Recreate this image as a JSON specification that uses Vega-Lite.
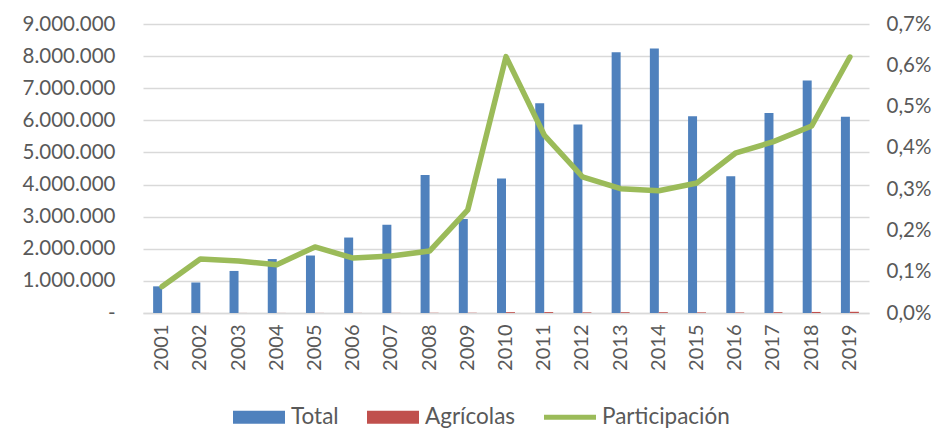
{
  "$schema": "https://vega.github.io/schema/vega-lite/v6.json",
  "width": 726,
  "height": 289,
  "autosize": "none",
  "padding": {"left": 143, "top": 24, "right": 71, "bottom": 115},
  "background": "white",
  "config": {
    "locale": {"number": {"decimal": ",", "thousands": ".", "grouping": [3], "currency": ["", " €"]}},
    "view": {"stroke": null},
    "font": "Lato"
  },
  "data": {"values": [
    {"Año": "2001", "Total": 830000, "Agrícolas": 530, "Participación": 0.00064},
    {"Año": "2002", "Total": 950000, "Agrícolas": 1245, "Participación": 0.00131},
    {"Año": "2003", "Total": 1310000, "Agrícolas": 1650, "Participación": 0.00126},
    {"Año": "2004", "Total": 1680000, "Agrícolas": 1966, "Participación": 0.00117},
    {"Año": "2005", "Total": 1790000, "Agrícolas": 2864, "Participación": 0.0016},
    {"Año": "2006", "Total": 2350000, "Agrícolas": 3126, "Participación": 0.00133},
    {"Año": "2007", "Total": 2750000, "Agrícolas": 3795, "Participación": 0.00138},
    {"Año": "2008", "Total": 4300000, "Agrícolas": 6450, "Participación": 0.0015},
    {"Año": "2009", "Total": 2930000, "Agrícolas": 7325, "Participación": 0.0025},
    {"Año": "2010", "Total": 4190000, "Agrícolas": 26020, "Participación": 0.00621},
    {"Año": "2011", "Total": 6530000, "Agrícolas": 28140, "Participación": 0.00431},
    {"Año": "2012", "Total": 5870000, "Agrícolas": 19370, "Participación": 0.0033},
    {"Año": "2013", "Total": 8120000, "Agrícolas": 24440, "Participación": 0.00301},
    {"Año": "2014", "Total": 8240000, "Agrícolas": 24390, "Participación": 0.00296},
    {"Año": "2015", "Total": 6130000, "Agrícolas": 19310, "Participación": 0.00315},
    {"Año": "2016", "Total": 4260000, "Agrícolas": 16490, "Participación": 0.00387},
    {"Año": "2017", "Total": 6230000, "Agrícolas": 25850, "Participación": 0.00415},
    {"Año": "2018", "Total": 7240000, "Agrícolas": 32800, "Participación": 0.00453},
    {"Año": "2019", "Total": 6110000, "Agrícolas": 37880, "Participación": 0.0062}
  ]},
  "layer": [
    {
      "transform": [{"fold": ["Total", "Agrícolas"], "as": ["serie", "valor"]}],
      "mark": {"type": "bar"},
      "encoding": {
        "x": {
          "field": "Año", "type": "nominal",
          "scale": {"paddingInner": 0.53, "paddingOuter": 0.265},
          "axis": {
            "title": null, "labelAngle": -90, "labelFontSize": 20, "labelColor": "#595959",
            "labelPadding": 11, "ticks": false, "domain": true, "domainColor": "#D9D9D9", "domainWidth": 1.3
          }
        },
        "xOffset": {"field": "serie", "sort": ["Total", "Agrícolas"], "scale": {"paddingInner": 0, "paddingOuter": 0}},
        "y": {
          "field": "valor", "type": "quantitative",
          "scale": {"domain": [0, 9000000]},
          "axis": {
            "title": null, "values": [0, 1000000, 2000000, 3000000, 4000000, 5000000, 6000000, 7000000, 8000000, 9000000],
            "labelExpr": "datum.value === 0 ? '-\u00a0\u00a0\u00a0' : format(datum.value, ',d')",
            "labelFontSize": 20.5, "labelColor": "#595959", "labelPadding": 28,
            "ticks": false, "domain": false, "grid": true, "gridColor": "#D9D9D9", "gridWidth": 1.3
          }
        },
        "color": {
          "field": "serie", "type": "nominal",
          "scale": {"domain": ["Total", "Agrícolas", "Participación"], "range": ["#4F81BD", "#C0504D", "#9BBB59"]},
          "legend": {
            "title": null, "orient": "none", "legendX": 90, "legendY": 367, "direction": "horizontal",
            "labelFontSize": 22.5, "labelColor": "#595959", "labelOffset": 6, "columnPadding": 28,
            "symbolType": "M-1,-0.25H1V0.25H-1Z", "symbolSize": 2704, "symbolStrokeWidth": 0,
            "symbolOpacity": 1,
            "encode": {
              "symbols": {"update": {
                "shape": {"signal": "datum.value === 'Participación' ? 'M-1,-0.1H1V0.1H-1Z' : 'M-1,-0.25H1V0.25H-1Z'"},
                "fill": {"signal": "datum.value === 'Participación' ? '#9BBB59' : datum.value === 'Agrícolas' ? '#C0504D' : '#4F81BD'"},
                "stroke": {"signal": "datum.value === 'Participación' ? '#9BBB59' : datum.value === 'Agrícolas' ? '#C0504D' : '#4F81BD'"},
                "fillOpacity": {"value": 1},
                "opacity": {"value": 1},
                "strokeWidth": {"value": 0}
              }}
            }
          }
        }
      }
    },
    {
      "mark": {"type": "line", "strokeWidth": 5.5, "strokeCap": "round", "strokeJoin": "round"},
      "encoding": {
        "x": {"field": "Año", "type": "nominal"},
        "y": {
          "field": "Participación", "type": "quantitative",
          "scale": {"domain": [0, 0.007]},
          "axis": {
            "title": null, "orient": "right", "values": [0, 0.001, 0.002, 0.003, 0.004, 0.005, 0.006, 0.007],
            "format": ".1%", "labelFontSize": 20.5, "labelColor": "#595959", "labelPadding": 17,
            "ticks": false, "domain": false, "grid": false
          }
        },
        "color": {"datum": "Participación"}
      }
    }
  ],
  "resolve": {"scale": {"y": "independent"}}
}
